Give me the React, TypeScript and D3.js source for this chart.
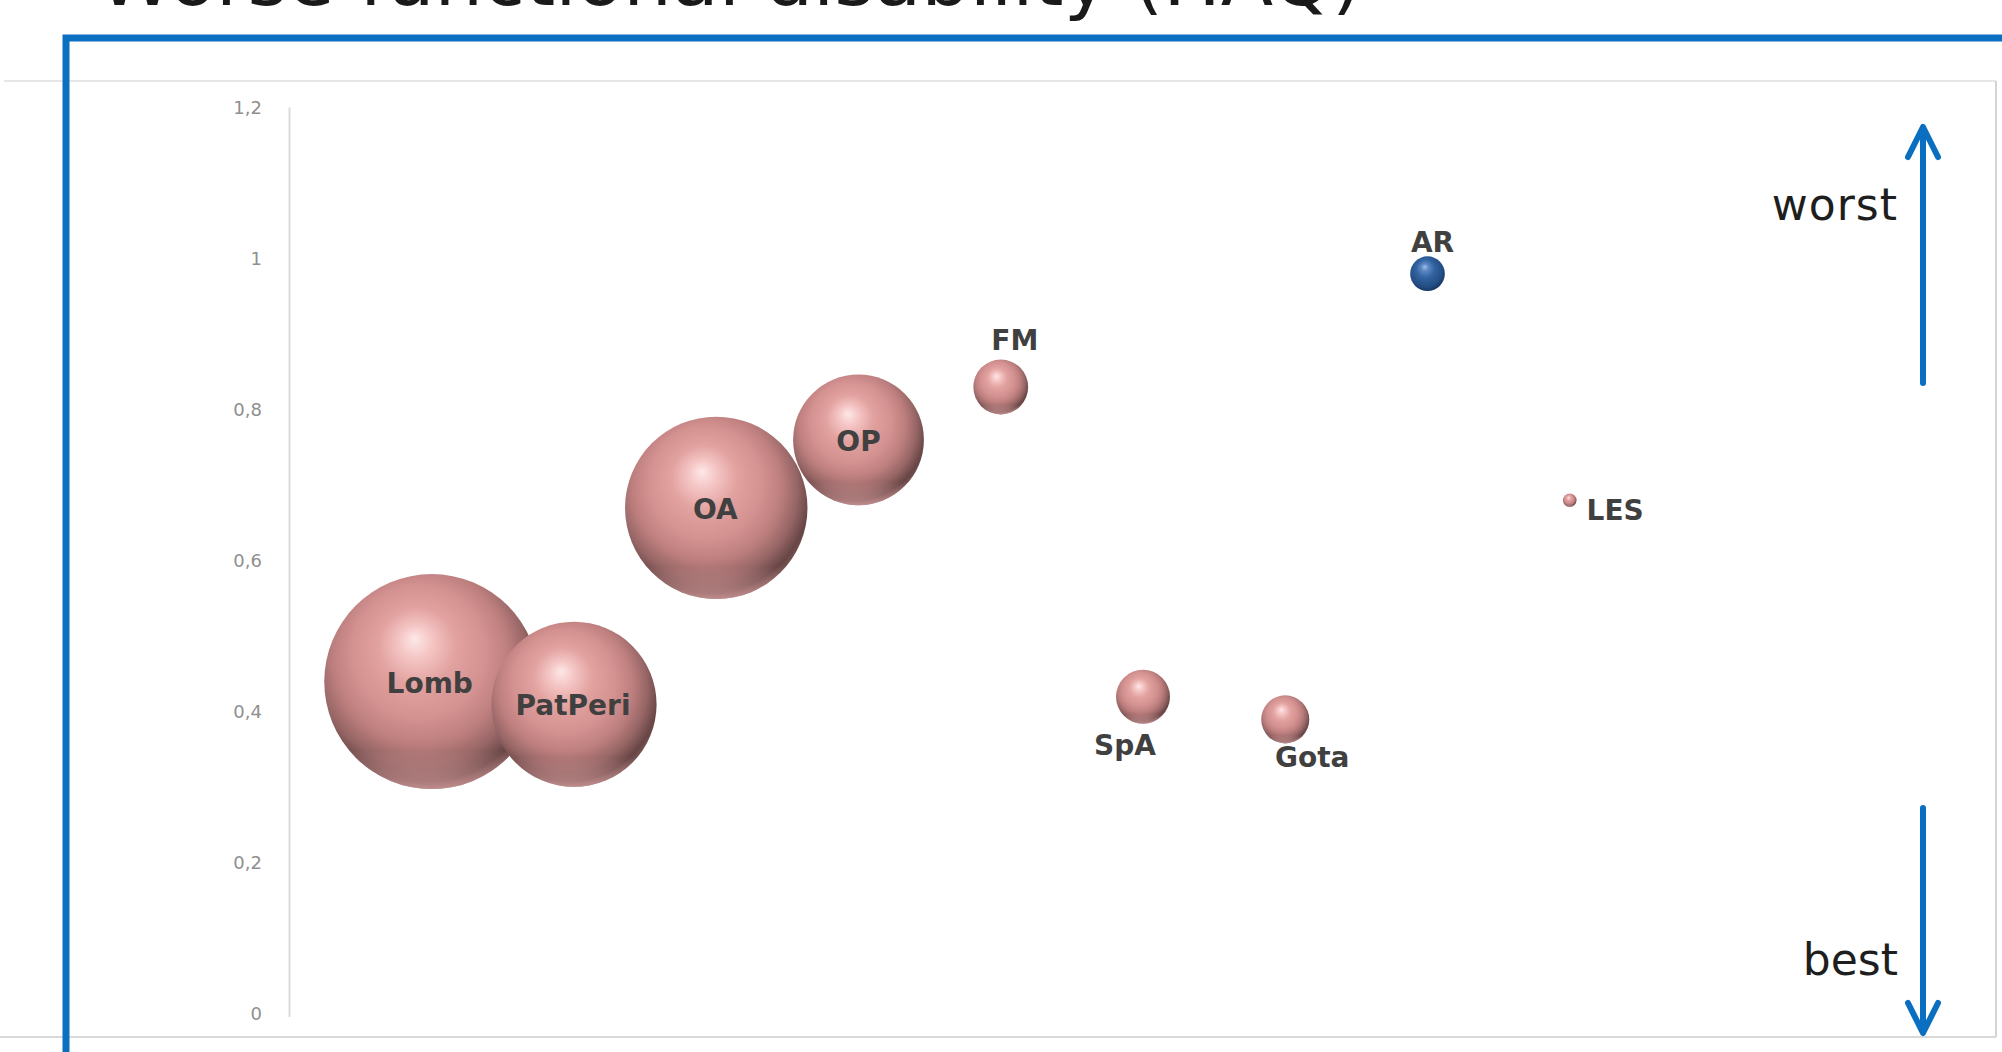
import React from "react";
import * as d3 from "d3";

// ---- data ----
const names = ["Lomb", "PatPeri", "OA", "OP", "FM", "SpA", "Gota", "AR", "LES"];
const xIndex = [1, 2, 3, 4, 5, 6, 7, 8, 9];
const haq = [0.44, 0.41, 0.67, 0.76, 0.83, 0.42, 0.39, 0.98, 0.68];
const bubbleSize = [100, 59, 72, 37, 6.5, 6.3, 5, 2.6, 0.4];
const highlighted = ["AR"];
const yTickValues = [0, 0.2, 0.4, 0.6, 0.8, 1, 1.2];
const titleText = "Worse functional disability (HAQ)";
const topLabel = "worst";
const bottomLabel = "best";

// ---- layout config (label placement) ----
const LABEL_LAYOUT: Record<string, { pos: string; dx: number; gap: number }> = {
  Lomb: { pos: "center", dx: -2, gap: 0 },
  PatPeri: { pos: "center", dx: -1, gap: 0 },
  OA: { pos: "center", dx: -1, gap: 0 },
  OP: { pos: "center", dx: 0, gap: 0 },
  FM: { pos: "above", dx: 14, gap: 10 },
  SpA: { pos: "below", dx: -18, gap: 31 },
  Gota: { pos: "below", dx: 27, gap: 24 },
  AR: { pos: "above", dx: 5, gap: 4 },
  LES: { pos: "right", dx: 10, gap: 20 },
};

const W = 2002;
const H = 1052;
const BLUE = "#0b6fc1";

const commaLocale = d3.formatLocale({
  decimal: ",",
  thousands: ".",
  grouping: [3],
  currency: ["", "€"],
});
const fmt = commaLocale.format(".1~f");

export default function App() {
  const x = d3.scaleLinear().domain([0, 10]).range([289.5, 1712]);
  const y = d3.scaleLinear().domain([0, 1.2]).range([1014, 107.5]);
  const r = d3.scaleSqrt().domain([0, 100]).range([0, 107.5]);

  const points = names.map((n, i) => ({
    name: n,
    cx: x(xIndex[i]),
    cy: y(haq[i]),
    r: r(bubbleSize[i]),
    blue: highlighted.includes(n),
    size: bubbleSize[i],
  }));
  const drawOrder = [...points].sort((a, b) => b.size - a.size);

  const labelPos = (p: any) => {
    const L = LABEL_LAYOUT[p.name];
    if (L.pos === "center") return { x: p.cx + L.dx, y: p.cy + 11, anchor: "middle" };
    if (L.pos === "above") return { x: p.cx + L.dx, y: p.cy - p.r - L.gap, anchor: "middle" };
    if (L.pos === "below") return { x: p.cx + L.dx, y: p.cy + p.r + L.gap, anchor: "middle" };
    return { x: p.cx + p.r + L.dx, y: p.cy + L.gap, anchor: "start" };
  };

  const axisX = x(0);
  const arrowX = 1923;

  return (
    <svg
      width={W}
      height={H}
      style={{ position: "absolute", left: 0, top: 0, display: "block", background: "#fff" }}
    >
      <defs>
        <radialGradient id="pinkBall" cx="0.46" cy="0.42" r="0.6" fx="0.42" fy="0.3">
          <stop offset="0" stopColor="#fde8e8" />
          <stop offset="0.13" stopColor="#f4c5c4" />
          <stop offset="0.3" stopColor="#e2a2a0" />
          <stop offset="0.52" stopColor="#d39190" />
          <stop offset="0.68" stopColor="#bd7f7e" />
          <stop offset="0.82" stopColor="#966565" />
          <stop offset="0.93" stopColor="#684646" />
          <stop offset="1" stopColor="#7e5656" />
        </radialGradient>
        <radialGradient id="blueBall" cx="0.46" cy="0.42" r="0.6" fx="0.42" fy="0.3">
          <stop offset="0" stopColor="#9fbde6" />
          <stop offset="0.18" stopColor="#5b88c3" />
          <stop offset="0.45" stopColor="#31629f" />
          <stop offset="0.8" stopColor="#234d84" />
          <stop offset="1" stopColor="#16325a" />
        </radialGradient>
        <linearGradient id="rim" x1="0" y1="0" x2="0" y2="1">
          <stop offset="0.82" stopColor="#f0b0b0" stopOpacity="0" />
          <stop offset="1" stopColor="#f2b4b4" stopOpacity="0.6" />
        </linearGradient>
      </defs>

      {/* cut-off title */}
      <text
        x={98}
        y={5}
        fontFamily="DejaVu Sans"
        fontSize={74}
        fill="#1a1a1a"
        textLength={1264}
        lengthAdjust="spacingAndGlyphs"
      >
        {titleText}
      </text>

      {/* chart area border */}
      <line x1={4} x2={1996} y1={81} y2={81} stroke="#e6e6e6" strokeWidth={2} />
      <line x1={1996} x2={1996} y1={81} y2={1037} stroke="#d4d4d4" strokeWidth={2} />
      <line x1={0} x2={1996} y1={1037} y2={1037} stroke="#d9d9d9" strokeWidth={2} />

      {/* y axis */}
      <line x1={axisX} x2={axisX} y1={y(1.2)} y2={y(0) + 3} stroke="#dcdcdc" strokeWidth={2} />
      {yTickValues.map((t) => (
        <text
          key={t}
          x={262}
          y={y(t)}
          dy="0.35em"
          textAnchor="end"
          fontFamily="DejaVu Sans"
          fontSize={18}
          fill="#8f8f8f"
        >
          {fmt(t)}
        </text>
      ))}

      {/* bubbles */}
      {drawOrder.map((p) => (
        <g key={p.name}>
          <circle cx={p.cx} cy={p.cy} r={p.r} fill={p.blue ? "url(#blueBall)" : "url(#pinkBall)"} />
          {!p.blue && <circle cx={p.cx} cy={p.cy} r={p.r} fill="url(#rim)" />}
        </g>
      ))}

      {/* bubble labels */}
      {points.map((p) => {
        const l = labelPos(p);
        return (
          <text
            key={"l" + p.name}
            x={l.x}
            y={l.y}
            textAnchor={l.anchor as any}
            fontFamily="DejaVu Sans"
            fontWeight="bold"
            fontSize={28}
            fill="#404040"
          >
            {p.name}
          </text>
        );
      })}

      {/* worst / best annotations */}
      <text x={1898} y={220} textAnchor="end" fontFamily="DejaVu Sans" fontSize={44} fill="#1e1e1e" letterSpacing={1}>
        {topLabel}
      </text>
      <text x={1898} y={975} textAnchor="end" fontFamily="DejaVu Sans" fontSize={44} fill="#1e1e1e">
        {bottomLabel}
      </text>

      {/* arrows */}
      <g stroke={BLUE} strokeWidth={6} fill="none" strokeLinecap="round" strokeLinejoin="round">
        <line x1={arrowX} x2={arrowX} y1={383} y2={128} />
        <polyline points={`${arrowX - 15},${157} ${arrowX},${127} ${arrowX + 15},${157}`} />
        <line x1={arrowX} x2={arrowX} y1={808} y2={1032} />
        <polyline points={`${arrowX - 15},${1003} ${arrowX},${1033} ${arrowX + 15},${1003}`} />
      </g>

      {/* blue frame */}
      <path d={`M66,${H + 10} L66,38 L${W + 10},38`} stroke={BLUE} strokeWidth={7} fill="none" strokeLinejoin="miter" />
    </svg>
  );
}
